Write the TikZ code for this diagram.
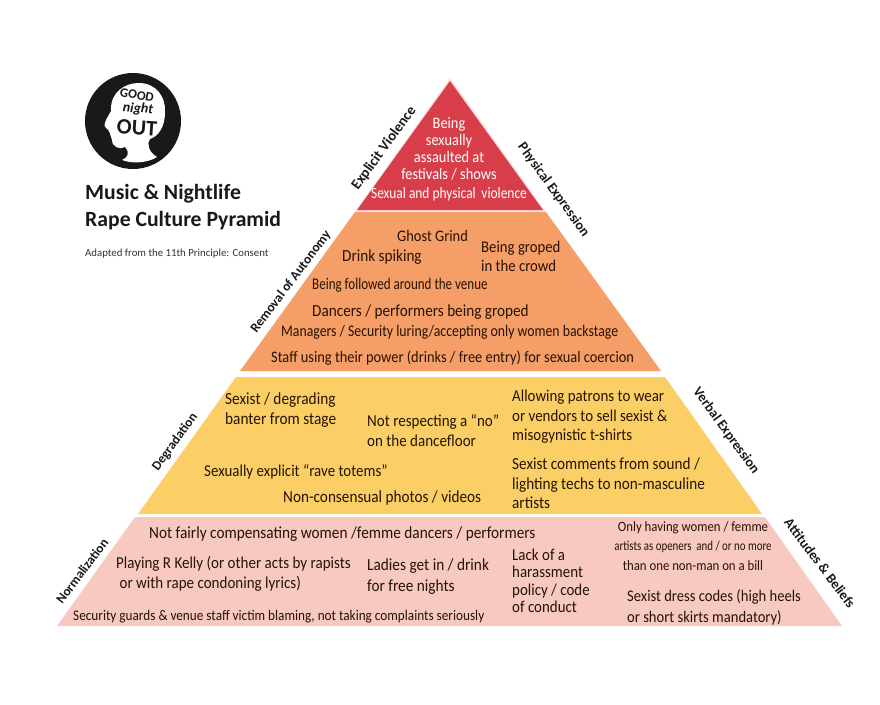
\documentclass[tikz,border=0pt]{standalone}
\usepackage{fontspec}
\setmainfont{Carlito}
\newfontfamily\fa[FakeStretch=0.9]{Carlito}
\newfontfamily\fb[FakeStretch=0.8]{Carlito}
\newfontfamily\fc[FakeStretch=0.85]{Carlito}
\begin{document}
\begin{tikzpicture}[x=1pt,y=-1pt,
  t/.style 2 args={anchor=west,inner sep=0pt,text=black!85!orange,font=\fa\fontsize{#1}{#2}\selectfont,align=left},
  side/.style={inner sep=0pt,text=black!90,font=\bfseries\fontsize{#1}{16}\selectfont},
  tier/.style={draw=none},
  logotext/.style={inner sep=0pt,text=black!90}]
\useasboundingbox (0,0) rectangle (880,704);
\fill[white] (0,0) rectangle (880,704);
% tiers
\fill[tier,fill=white!50!pink] (450,78) -- (546,212) -- (355,212) -- cycle;
\fill[tier,fill={rgb,255:red,216;green,62;blue,73}] (450,81) -- (543,210) -- (357,210) -- cycle;
\fill[tier,fill={rgb,255:red,245;green,158;blue,104}] (355,212) -- (546,212) -- (661,371) -- (240,371) -- cycle;
\fill[tier,fill={rgb,255:red,251;green,207;blue,102}] (236,377) -- (665,377) -- (762,514) -- (138,514) -- cycle;
\fill[tier,fill={rgb,255:red,248;green,201;blue,193}] (135,517) -- (765,517) -- (842,626) -- (57,626) -- cycle;
% logo
\fill[black!90] (133,121) circle (48);
\fill[white] (122,160) .. controls (128,158) and (130,152) .. (125,147)
  .. controls (120,150) and (112,147) .. (112,140)
  .. controls (110,135) and (110,130) .. (106,128)
  .. controls (102,126) and (107,118) .. (111,111)
  .. controls (110,92) and (125,83) .. (139,83)
  .. controls (156,83) and (166,97) .. (165,112)
  .. controls (165,128) and (158,136) .. (150,139)
  .. controls (146,145) and (150,153) .. (157,157)
  .. controls (148,163) and (132,164) .. (122,160) -- cycle;
\node[logotext,rotate=-10,font=\bfseries\fontsize{13}{13}\selectfont] (lg1) at (137,95) {GOOD};
\node[logotext,rotate=-5,font=\itshape\bfseries\fontsize{14}{14}\selectfont] (lg2) at (138,109) {night};
\node[logotext,rotate=-4,font=\bfseries\fontsize{22}{22}\selectfont] (lg3) at (137,128) {OUT};
% title
\node[inner sep=0pt,anchor=west,font=\bfseries\fontsize{21.7}{27}\selectfont,align=left,text=black!90] (title) at (85,207) {Music \& Nightlife\\Rape Culture Pyramid};
\node[inner sep=0pt,anchor=west,font=\fontsize{10.8}{13}\selectfont,text=black!80] (adapt) at (85,254) {Adapted from the 11th Principle: Consent};
% side labels
\node[side=14.6,rotate=54] (ev) at (384,148) {Explicit Violence};
\node[side=13.4,rotate=53] (ra) at (291,282) {Removal of Autonomy};
\node[side=13.2,rotate=54] (de) at (175,442) {Degradation};
\node[side=13.2,rotate=53] (no) at (82,571) {Normalization};
\node[side=14,rotate=-54] (pe) at (553.5,190) {Physical Expression};
\node[side=14,rotate=-54] (ve) at (726,431) {Verbal Expression};
\node[side=14,rotate=-53] (ab) at (820,563) {Attitudes \& Beliefs};
% red
\node[t={16}{17},text=white,align=center,anchor=center] (r1) at (449,149) {Being\\sexually\\assaulted at\\festivals / shows};
\node[t={15.8}{17},font=\fc\fontsize{15.8}{17}\selectfont,text=white,anchor=center] (r2) at (449,194.5) {Sexual and physical\, violence};
% orange
\node[t={16.1}{19}] (o1) at (397,236) {Ghost Grind};
\node[t={16.9}{19}] (o2) at (342,257) {Drink spiking};
\node[t={16.4}{19}] (o3) at (481,256) {Being groped\\in the crowd};
\node[t={16}{19},font=\fb\fontsize{16.3}{19}\selectfont] (o4) at (312,285) {Being followed around the venue};
\node[t={16.9}{19}] (o5) at (312,312) {Dancers / performers being groped};
\node[t={16}{19},font=\fc\fontsize{16.2}{19}\selectfont] (o6) at (281,332) {Managers / Security luring/accepting only women backstage};
\node[t={16}{19}] (o7) at (271,358) {Staff using their power (drinks / free entry) for sexual coercion};
% yellow
\node[t={17}{20}] (y1) at (225,410) {Sexist / degrading\\banter from stage};
\node[t={16.7}{20}] (y2) at (367,431) {Not respecting a “no”\\on the dancefloor};
\node[t={16.6}{19.5}] (y3) at (512,417) {Allowing patrons to wear\\or vendors to sell sexist \&\\misogynistic t-shirts};
\node[t={16.6}{19}] (y4) at (204,472) {Sexually explicit “rave totems”};
\node[t={16.9}{19}] (y5) at (283,498) {Non-consensual photos / videos};
\node[t={16.9}{19.5}] (y6) at (512,483.5) {Sexist comments from sound /\\lighting techs to non-masculine\\artists};
% pink
\node[t={17}{19}] (p1) at (149,534) {Not fairly compensating women /femme dancers / performers};
\node[t={16.7}{20}] (p2) at (116,574) {Playing R Kelly (or other acts by rapists\\\ or with rape condoning lyrics)};
\node[t={17}{21}] (p3) at (367,576.5) {Ladies get in / drink\\for free nights};
\node[t={16.6}{17.5}] (p4) at (512,581) {Lack of a\\harassment\\policy / code\\of conduct};
\node[t={14.2}{19.5},align=center,anchor=center] (p5) at (693,546) {Only having women / femme\\{\fb\fontsize{13.6}{19.5}\selectfont artists as openers\, and / or no more}\\than one non-man on a bill};
\node[t={16.2}{21}] (p6) at (627,607.5) {Sexist dress codes (high heels\\or short skirts mandatory)};
\node[t={14.7}{17}] (p7) at (73,617) {Security guards \& venue staff victim blaming, not taking complaints seriously};
\end{tikzpicture}
\end{document}
